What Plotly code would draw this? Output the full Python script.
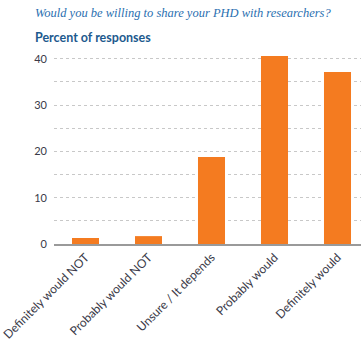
import plotly.graph_objects as go

categories = ["Definitely would NOT", "Probably would NOT", "Unsure / It depends", "Probably would", "Definitely would"]
values = [1.3, 1.7, 18.8, 40.6, 37.1]
tick_vals = [0, 10, 20, 30, 40]
tick_text = ["0", "10", "20", "30", "40"]

title_text = "Would you be willing to share your PHD with researchers?"
subtitle_text = "Percent of responses"

fig = go.Figure()
fig.add_trace(go.Bar(x=categories, y=values, marker=dict(color="#f47b20", line=dict(width=0))))

W, H = 361, 344
ml, mr, mt, mb = 54, 0, 49, 100
pw = W - ml - mr

fig.update_layout(
    width=W, height=H,
    margin=dict(l=ml, r=mr, t=mt, b=mb),
    paper_bgcolor="white", plot_bgcolor="white",
    bargap=0.571,
    showlegend=False,
    font=dict(family="Lato", color="#3a3a48"),
    xaxis=dict(
        range=[-0.5, 4.373],
        tickangle=-45,
        automargin=False,
        tickfont=dict(family="Lato", size=12, color="#3a3a48"),
        showline=True, linecolor="#9a9a9a", linewidth=1.5,
        showgrid=False, ticks="", zeroline=False,
    ),
    yaxis=dict(
        range=[0, 42.09],
        automargin=False,
        tickvals=tick_vals, ticktext=tick_text,
        tickfont=dict(family="Lato", size=11, color="#3a3a48"),
        showgrid=True, gridcolor="#c8c8c8", griddash="dot", gridwidth=1,
        minor=dict(dtick=5, showgrid=True, gridcolor="#c8c8c8", griddash="dot", gridwidth=1),
        zeroline=False, showline=False, ticks="",
        ticklabelstandoff=6,
    ),
    annotations=[
        dict(text=title_text, xref="paper", yref="paper",
             x=(33 - ml) / pw, y=1 + (mt - 4) / (H - mt - mb), xanchor="left", yanchor="top",
             showarrow=False, font=dict(family="Liberation Serif", size=12.5, color="#2a6fb0", style="italic")),
        dict(text="<b>" + subtitle_text + "</b>", xref="paper", yref="paper",
             x=(33 - ml) / pw, y=1 + (mt - 28) / (H - mt - mb), xanchor="left", yanchor="top",
             showarrow=False, font=dict(family="Lato", size=12.5, color="#1d5a8e")),
    ],
)

fig.write_html("out.html")
